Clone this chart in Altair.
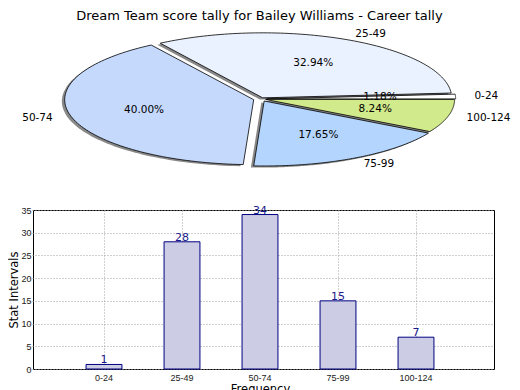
import altair as alt
import pandas as pd

# ---------------- data ----------------
categories = ["0-24", "25-49", "50-74", "75-99", "100-124"]
counts = [1, 28, 34, 15, 7]
slice_colors = ["#FFFFFF", "#EBF2FF", "#C5D9FD", "#B4D5FE", "#D1EA8B"]
explode = [0.03, 0.02, 0.04, 0.035, 0.025]
y_ticks = [0, 5, 10, 15, 20, 25, 30, 35]
title_text = "Dream Team score tally for Bailey Williams - Career tally"

# ---------------- layout ----------------
PLOT_LEFT = 32    # page x of the plot areas' left edge (set by the y axis width)
PLOT_W = 493 - PLOT_LEFT
AXES_LEFT = 25    # page x where the reference's bar axes start
BAR_H = 159
PIE_H = 168
UNIT_X = 189      # px per pie-radius unit, horizontal
UNIT_Y = 65       # px per pie-radius unit, vertical (squashed pie)
PIE_CX = 260 - PLOT_LEFT   # pie centre from left of panel, px
PIE_CY = 72       # pie centre from top of panel, px
N = 90            # arc resolution

x_dom = [-PIE_CX / UNIT_X, (PLOT_W - PIE_CX) / UNIT_X]
y_dom = [(PIE_CY - PIE_H) / UNIT_Y, PIE_CY / UNIT_Y]

pie_df = pd.DataFrame({"cat": categories, "value": counts,
                       "explode": explode, "idx": list(range(len(categories)))})

base = (
    alt.Chart(pie_df)
    .transform_joinaggregate(total="sum(value)")
    .transform_window(cum="sum(value)", sort=[alt.SortField("idx", order="ascending")])
    .transform_calculate(a0="2*PI*(datum.cum - datum.value)/datum.total",
                         a1="2*PI*datum.cum/datum.total")
    .transform_calculate(mid="(datum.a0 + datum.a1)/2")
    .transform_calculate(ox="datum.explode*cos(datum.mid)",
                         oy="datum.explode*sin(datum.mid)")
)

poly = (
    base.transform_calculate(k=f"sequence(0, {N + 2})")
    .transform_flatten(["k"])
    .transform_calculate(t=f"datum.a0 + (datum.a1 - datum.a0)*(datum.k - 1)/{N}")
    .transform_calculate(px="datum.ox + (datum.k == 0 ? 0 : cos(datum.t))",
                         py="datum.oy + (datum.k == 0 ? 0 : sin(datum.t))")
)


def X(f):
    return alt.X(f"{f}:Q", scale=alt.Scale(domain=x_dom, nice=False, zero=False), axis=None)


def Y(f):
    return alt.Y(f"{f}:Q", scale=alt.Scale(domain=y_dom, nice=False, zero=False), axis=None)


shadow = (
    poly.transform_calculate(sx="datum.px - 0.015", sy="datum.py - 0.025")
    .mark_line(filled=True, interpolate="linear-closed", color="#888888", strokeWidth=0)
    .encode(x=X("sx"), y=Y("sy"), detail="cat:N", order="k:Q")
)

wedges = (
    poly.mark_line(filled=True, interpolate="linear-closed", stroke="black",
                   strokeWidth=0.8, strokeJoin="round")
    .encode(x=X("px"), y=Y("py"),
            color=alt.Color("cat:N", scale=alt.Scale(domain=categories, range=slice_colors),
                            legend=None),
            order="k:Q")
)

lab = base.transform_calculate(lx="datum.ox + 1.1*cos(datum.mid)",
                               ly="datum.oy + 1.1*sin(datum.mid)",
                               side="cos(datum.mid) > 0 ? 1 : 0")
lab_r = (lab.transform_filter("datum.side == 1")
         .mark_text(align="left", baseline="middle", fontSize=10.5, color="black")
         .encode(x=X("lx"), y=Y("ly"), text="cat:N"))
lab_l = (lab.transform_filter("datum.side == 0")
         .mark_text(align="right", baseline="middle", fontSize=10.5, color="black")
         .encode(x=X("lx"), y=Y("ly"), text="cat:N"))

pct = (
    base.transform_calculate(qx="datum.ox + 0.6*cos(datum.mid)",
                             qy="datum.oy + 0.6*sin(datum.mid)",
                             pct="format(100*datum.value/datum.total, '.2f') + '%'")
    .mark_text(align="center", baseline="middle", fontSize=10.5, color="black")
    .encode(x=X("qx"), y=Y("qy"), text="pct:N")
)

pie = alt.layer(shadow, wedges, lab_r, lab_l, pct).properties(
    width=PLOT_W, height=PIE_H, view=alt.ViewBackground(strokeOpacity=0))

# ---------------- bar chart ----------------
bar_df = pd.DataFrame({"cat": categories, "value": counts})

xb = alt.X("cat:N", sort=categories,
           scale=alt.Scale(paddingInner=0.54, paddingOuter=0.77,
                           range=[AXES_LEFT - PLOT_LEFT, PLOT_W]),
           axis=alt.Axis(title="Frequency", labelAngle=0, grid=True, bandPosition=0.5,
                         labelPadding=4, titlePadding=1))
yb = alt.Y("value:Q", scale=alt.Scale(domain=[0, 35], nice=False),
           axis=alt.Axis(values=y_ticks, title="Stat Intervals", grid=True,
                         labelPadding=2, titlePadding=1))

bars = alt.Chart(bar_df).mark_bar(fill="#CCCCE4", stroke="#000080", strokeWidth=1).encode(x=xb, y=yb)
vals = alt.Chart(bar_df).mark_text(baseline="bottom", dy=1, fontSize=11, color="#1a1a8c").encode(
    x=xb, y=yb, text="value:Q")

bar = alt.layer(bars, vals).properties(
    width=PLOT_W, height=BAR_H, view=alt.ViewBackground(stroke="black", strokeWidth=1))

chart = (
    alt.vconcat(pie, bar, spacing=15, bounds="flush",
                padding={"left": 0, "top": 2, "right": 0, "bottom": 0},
                title=alt.TitleParams(title_text, anchor="middle", fontSize=13,
                                      font="DejaVu Sans", fontWeight="normal", color="black"))
    .configure(font="DejaVu Sans")
    .configure_axis(labelFont="Liberation Sans", labelFontSize=9, labelColor="#222222",
                    titleFont="DejaVu Sans", titleFontWeight="normal", titleFontSize=11.5,
                    titleColor="black", ticks=False, domain=False,
                    gridColor="#a0a0a0", gridDash=[1, 2], gridWidth=1, gridOpacity=1)
)

chart.save("out.html", embed_options={"renderer": "svg", "actions": False})
